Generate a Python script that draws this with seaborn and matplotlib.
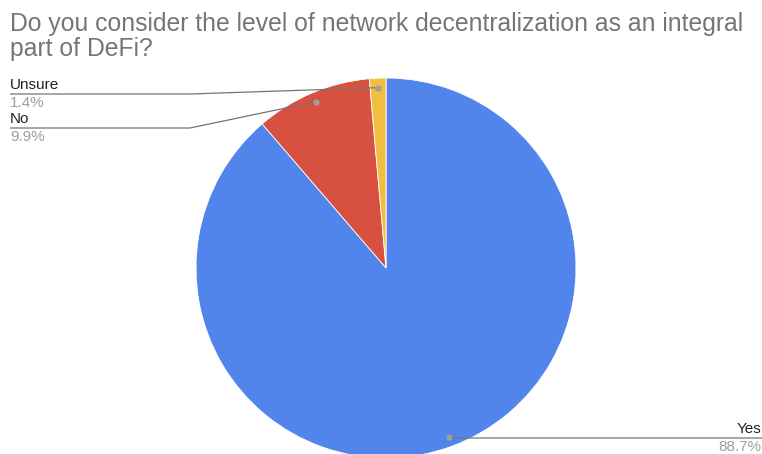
import numpy as np
import matplotlib
matplotlib.use("Agg")
import matplotlib.pyplot as plt
import seaborn as sns

sns.set_style("white")
plt.rcParams["font.family"] = ["Liberation Sans", "DejaVu Sans"]

labels = ["Yes", "No", "Unsure"]
shares = [88.7, 9.9, 1.4]
pct_text = ["88.7%", "9.9%", "1.4%"]
colors = ["#5185EC", "#D85140", "#F1BE42"]

W, H = 762, 454
fig = plt.figure(figsize=(W / 100, H / 100), dpi=100)
ax = fig.add_axes([0, 0, 1, 1])

cx, cy, R = 386, H - 268, 190
wedges, _ = ax.pie(shares, colors=colors, startangle=90, counterclock=False,
                   center=(cx, cy), radius=R, frame=True,
                   wedgeprops=dict(edgecolor="white", linewidth=0.6))
for w in wedges:
    w.set_clip_on(False)
ax.set_xlim(0, W)
ax.set_ylim(0, H)
ax.set_aspect("auto")
ax.axis("off")

fig.text(10 / W, 1 - 12 / H,
         "Do you consider the level of network decentralization as an integral\npart of DeFi?",
         ha="left", va="top", fontsize=17.8, color="#757575", linespacing=1.03)

# leader lines: elbow x and label line y (pixels from top)
leaders = {
    "Yes": dict(elbow=449, line_y=438, end=W, side="right"),
    "No": dict(elbow=190, line_y=128, end=10, side="left"),
    "Unsure": dict(elbow=190, line_y=94, end=10, side="left"),
}
for w, lab, pct in zip(wedges, labels, pct_text):
    mid = np.deg2rad((w.theta1 + w.theta2) / 2)
    px = cx + 0.95 * R * np.cos(mid)
    py = cy + 0.95 * R * np.sin(mid)
    info = leaders[lab]
    ly = H - info["line_y"]
    ax.plot([px, info["elbow"], info["end"]], [py, ly, ly], color="#757575",
            lw=0.9, solid_capstyle="butt", clip_on=False)
    ax.plot(px, py, "o", ms=3.5, color="#9e9e9e", clip_on=False)
    if info["side"] == "left":
        ax.text(info["end"], ly + 2, lab, ha="left", va="bottom", fontsize=11, color="#222222")
        ax.text(info["end"], ly - 2, pct, ha="left", va="top", fontsize=11, color="#9e9e9e")
    else:
        ax.text(info["end"] - 1, ly + 2, lab, ha="right", va="bottom", fontsize=11, color="#222222")
        ax.text(info["end"] - 1, ly - 2, pct, ha="right", va="top", fontsize=11, color="#9e9e9e")

fig.savefig("out.png", dpi=100)
